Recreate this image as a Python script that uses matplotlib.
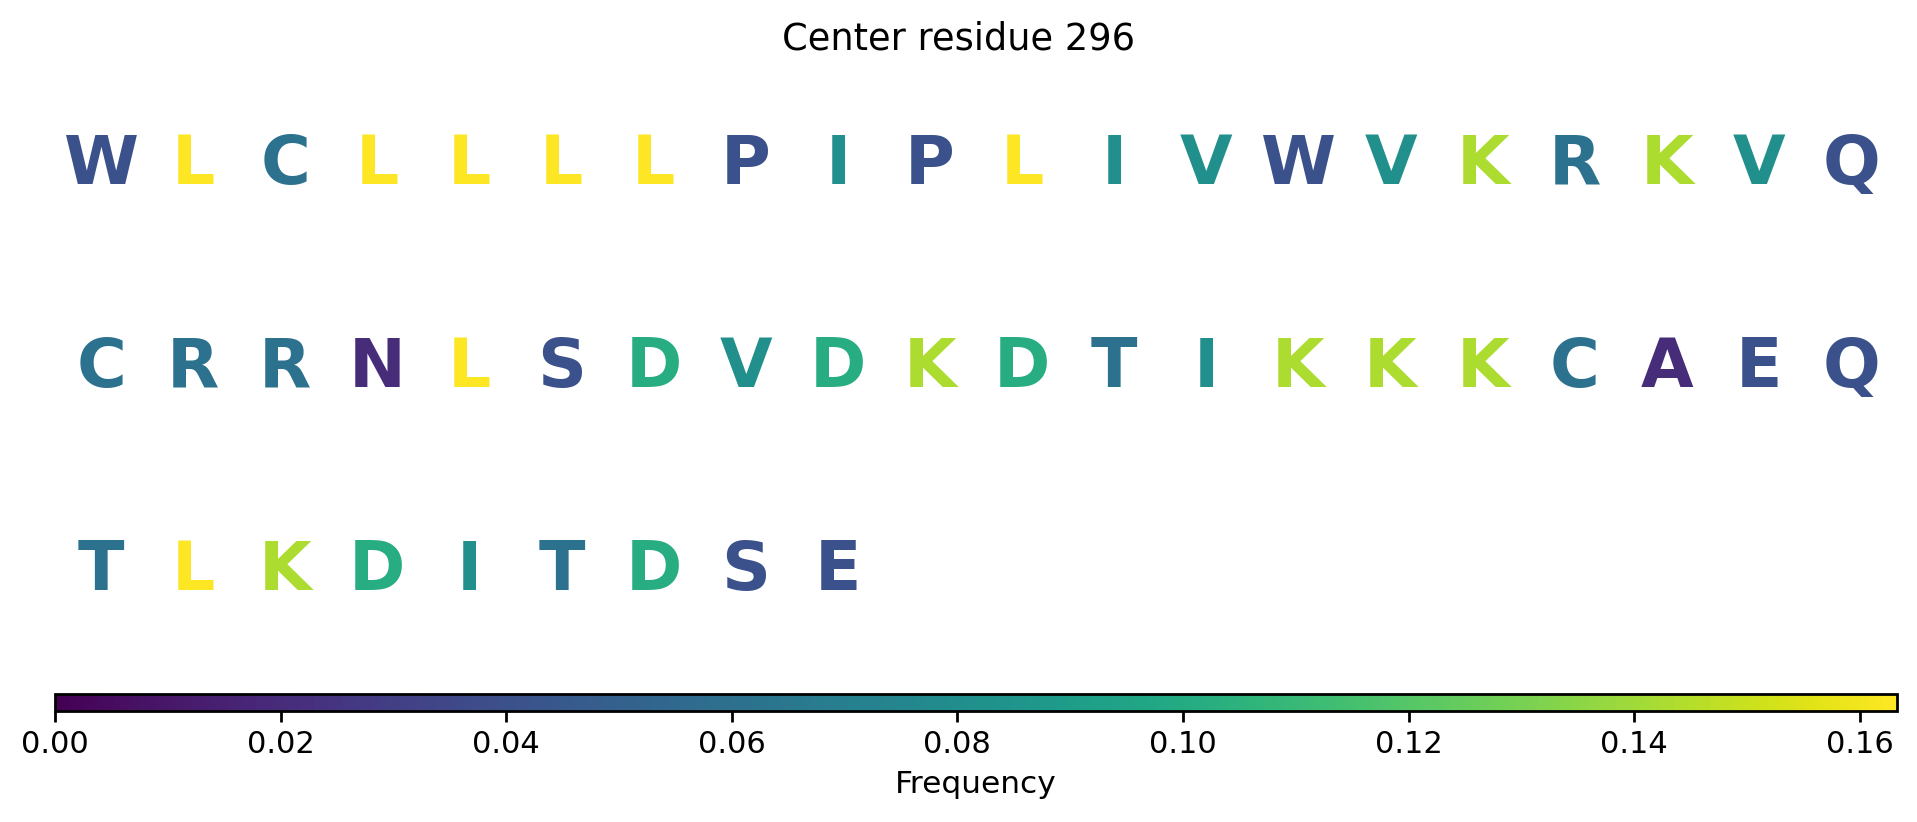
import matplotlib
matplotlib.use("Agg")
import matplotlib.pyplot as plt
from matplotlib import cm
from matplotlib.colors import Normalize

# residues around the center, read left to right, top to bottom
SEQUENCE = list("WLCLLLLPIPLIVWVKRKVQ" "CRRNLSDVDKDTIKKKCAEQ" "TLKDITDSE")

# frequency of each residue (colour value)
LETTERS = ["L", "K", "D", "V", "I", "T", "C", "R", "W", "P", "Q", "S", "E", "N", "A"]
FREQS = [0.1633, 0.1429, 0.1020, 0.0816, 0.0816, 0.0612, 0.0612, 0.0612,
         0.0408, 0.0408, 0.0408, 0.0408, 0.0408, 0.0204, 0.0204]

TITLE = "Center residue 296"
N_COLS = 20


def main():
    freq = dict(zip(LETTERS, FREQS))
    norm = Normalize(vmin=0, vmax=max(FREQS))
    cmap = plt.get_cmap("viridis")

    fig = plt.figure(figsize=(19.17, 8.22), dpi=100)
    ax = fig.add_axes([0.0287, 0.182, 0.9609, 0.74])
    n_rows = (len(SEQUENCE) + N_COLS - 1) // N_COLS
    ax.set_xlim(-0.5, N_COLS - 0.5)
    ax.set_ylim(n_rows - 0.5, -0.5)
    ax.axis("off")

    for i, res in enumerate(SEQUENCE):
        row, col = divmod(i, N_COLS)
        ax.text(col, row, res, ha="center", va="center", fontsize=49,
                fontweight="bold", color=cmap(norm(freq[res])))

    fig.text(0.5, 0.952, TITLE, ha="center", va="center", fontsize=26.5)

    cax = fig.add_axes([0.0287, 0.1355, 0.9609, 0.0207])
    sm = cm.ScalarMappable(norm=norm, cmap=cmap)
    cb = fig.colorbar(sm, cax=cax, orientation="horizontal")
    cb.outline.set_linewidth(2)
    cax.tick_params(labelsize=22, length=8, width=2, pad=6)
    cb.set_label("Frequency", fontsize=22.5, labelpad=8)

    fig.savefig("out.png", dpi=100)


if __name__ == "__main__":
    main()
